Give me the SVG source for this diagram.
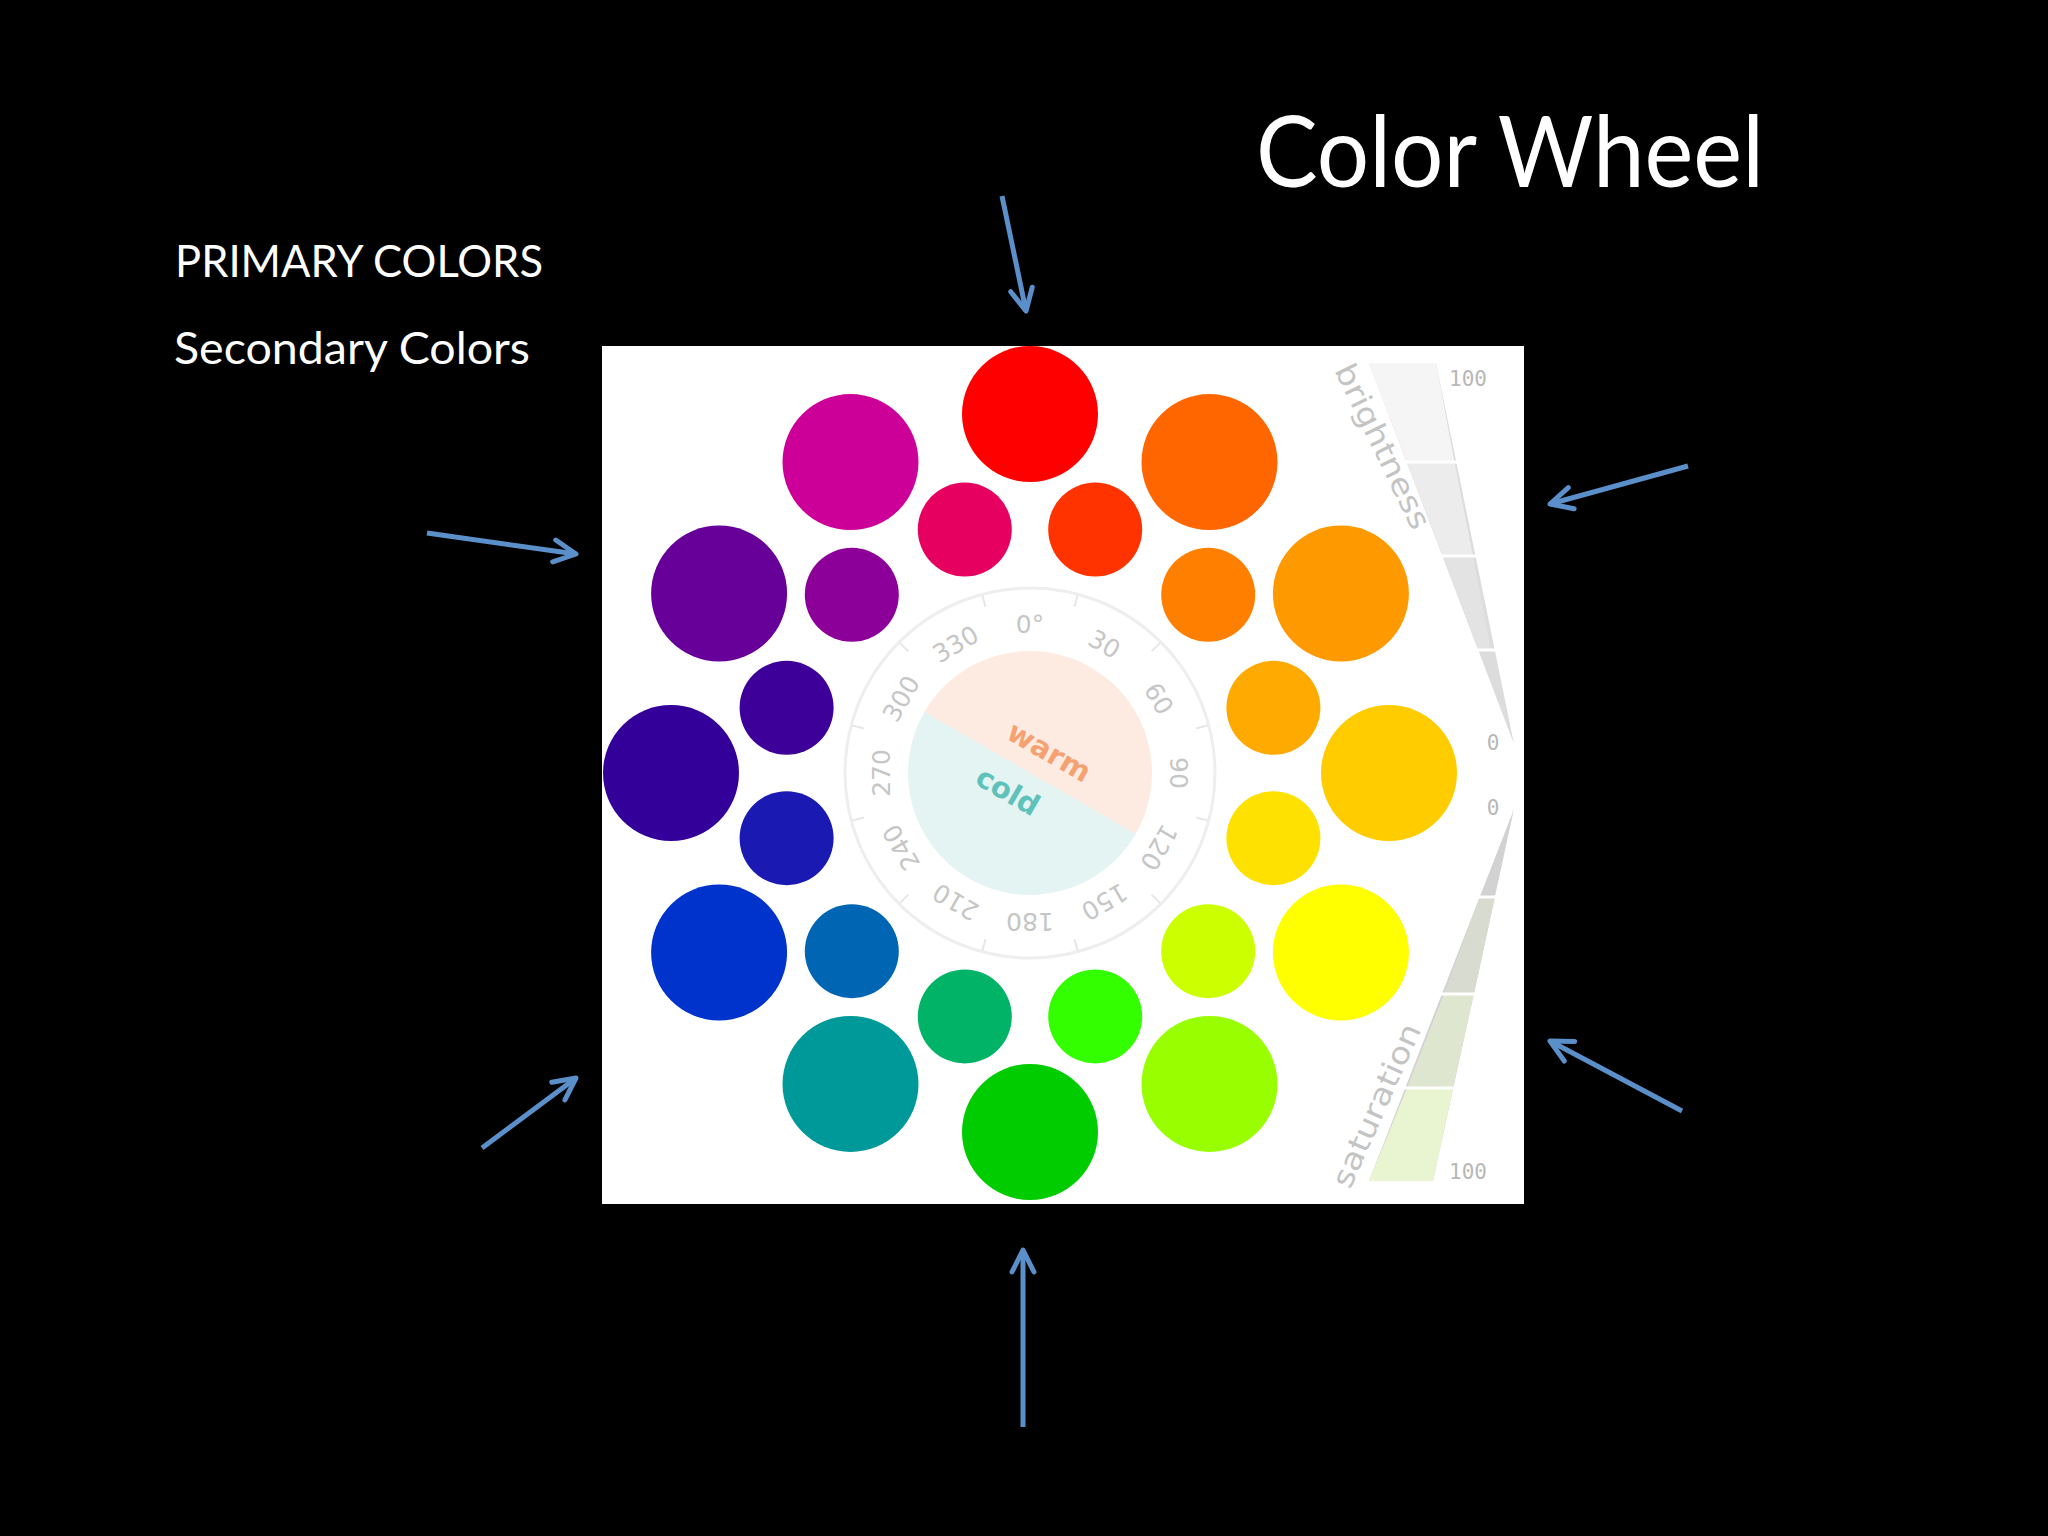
<svg xmlns="http://www.w3.org/2000/svg" width="2048" height="1536" viewBox="0 0 2048 1536">
<defs>
<style>
.title{font-family:Lato,"Open Sans","Liberation Sans",sans-serif;fill:#ffffff}
.dial{font-family:"DejaVu Sans","Liberation Sans",sans-serif;font-size:25px;fill:#c6c6c6;text-anchor:middle}
.side{font-family:"DejaVu Sans","Liberation Sans",sans-serif;fill:#c4c4c4}
.num{font-family:"DejaVu Sans Mono","Liberation Mono",monospace;font-size:21px;fill:#b8b8b8;text-anchor:middle}
.arrow{fill:none;stroke:#5b8fca;stroke-width:5;marker-end:url(#head)}
.tick{stroke:#e6e6e6;stroke-width:2}
.sep{stroke:#ffffff;stroke-width:3}
</style>
<marker id="head" markerUnits="userSpaceOnUse" markerWidth="40" markerHeight="40" viewBox="-30 -20 40 40" refX="0" refY="0" orient="auto">
<path d="M-22,-11 L0,0 L-22,11" fill="none" stroke="#5b8fca" stroke-width="5" stroke-linecap="round" stroke-linejoin="round"/>
</marker>
<line id="tk" class="tick" x1="1030" y1="589" x2="1030" y2="601"/>
</defs>
<rect width="2048" height="1536" fill="#000000"/>
<text class="title" x="1256" y="187" font-size="98" textLength="508" lengthAdjust="spacingAndGlyphs">Color Wheel</text>
<text class="title" x="175" y="277" font-size="45" textLength="368" lengthAdjust="spacingAndGlyphs">PRIMARY COLORS</text>
<text class="title" x="174" y="364" font-size="45" textLength="356" lengthAdjust="spacingAndGlyphs">Secondary Colors</text>

<g id="wheel-panel">
<rect x="602" y="346" width="922" height="858" fill="#ffffff"/>
</g>

<g id="dial">
<circle cx="1030" cy="773" r="185" fill="none" stroke="#eeeeee" stroke-width="3"/>
<use href="#tk" transform="rotate(15 1030 773)"/>
<use href="#tk" transform="rotate(45 1030 773)"/>
<use href="#tk" transform="rotate(75 1030 773)"/>
<use href="#tk" transform="rotate(105 1030 773)"/>
<use href="#tk" transform="rotate(135 1030 773)"/>
<use href="#tk" transform="rotate(165 1030 773)"/>
<use href="#tk" transform="rotate(195 1030 773)"/>
<use href="#tk" transform="rotate(225 1030 773)"/>
<use href="#tk" transform="rotate(255 1030 773)"/>
<use href="#tk" transform="rotate(285 1030 773)"/>
<use href="#tk" transform="rotate(315 1030 773)"/>
<use href="#tk" transform="rotate(345 1030 773)"/>
<text class="dial" x="1030" y="633" transform="rotate(0 1030 773)">0°</text>
<text class="dial" x="1030" y="633" transform="rotate(30 1030 773)">30</text>
<text class="dial" x="1030" y="633" transform="rotate(60 1030 773)">60</text>
<text class="dial" x="1030" y="633" transform="rotate(90 1030 773)">90</text>
<text class="dial" x="1030" y="633" transform="rotate(120 1030 773)">120</text>
<text class="dial" x="1030" y="633" transform="rotate(150 1030 773)">150</text>
<text class="dial" x="1030" y="633" transform="rotate(180 1030 773)">180</text>
<text class="dial" x="1030" y="633" transform="rotate(210 1030 773)">210</text>
<text class="dial" x="1030" y="633" transform="rotate(240 1030 773)">240</text>
<text class="dial" x="1030" y="633" transform="rotate(270 1030 773)">270</text>
<text class="dial" x="1030" y="633" transform="rotate(300 1030 773)">300</text>
<text class="dial" x="1030" y="633" transform="rotate(330 1030 773)">330</text>
<g transform="translate(1030 773) rotate(30)">
<path d="M-122,0 A122,122 0 0 1 122,0 Z" fill="#fdebe1"/>
<path d="M-122,0 A122,122 0 0 0 122,0 Z" fill="#e4f4f3"/>
<text x="6" y="-18" font-family="DejaVu Sans, sans-serif" font-weight="bold" font-size="29" fill="#f5a172" text-anchor="middle">warm</text>
<text x="-10" y="37" font-family="DejaVu Sans, sans-serif" font-weight="bold" font-size="29" fill="#5fc2ba" text-anchor="middle">cold</text>
</g>
</g>

<g id="big-circles">
<g id="hue-0"><circle cx="1030" cy="414" r="68" fill="#ff0000"/></g>
<g id="hue-30"><circle cx="1209.5" cy="462.1" r="68" fill="#ff6600"/></g>
<g id="hue-60"><circle cx="1340.9" cy="593.5" r="68" fill="#ff9900"/></g>
<g id="hue-90"><circle cx="1389" cy="773" r="68" fill="#ffcc00"/></g>
<g id="hue-120"><circle cx="1340.9" cy="952.5" r="68" fill="#ffff00"/></g>
<g id="hue-150"><circle cx="1209.5" cy="1083.9" r="68" fill="#99ff00"/></g>
<g id="hue-180"><circle cx="1030" cy="1132" r="68" fill="#00cc00"/></g>
<g id="hue-210"><circle cx="850.5" cy="1083.9" r="68" fill="#009999"/></g>
<g id="hue-240"><circle cx="719.1" cy="952.5" r="68" fill="#0033cc"/></g>
<g id="hue-270"><circle cx="671" cy="773" r="68" fill="#330099"/></g>
<g id="hue-300"><circle cx="719.1" cy="593.5" r="68" fill="#660099"/></g>
<g id="hue-330"><circle cx="850.5" cy="462.1" r="68" fill="#cc0099"/></g>
</g>

<g id="small-circles">
<g id="hue-15"><circle cx="1095.2" cy="529.6" r="47" fill="#ff3300"/></g>
<g id="hue-45"><circle cx="1208.2" cy="594.8" r="47" fill="#ff8000"/></g>
<g id="hue-75"><circle cx="1273.4" cy="707.8" r="47" fill="#ffaa00"/></g>
<g id="hue-105"><circle cx="1273.4" cy="838.2" r="47" fill="#ffe100"/></g>
<g id="hue-135"><circle cx="1208.2" cy="951.2" r="47" fill="#ccff00"/></g>
<g id="hue-165"><circle cx="1095.2" cy="1016.4" r="47" fill="#33ff00"/></g>
<g id="hue-195"><circle cx="964.8" cy="1016.4" r="47" fill="#00b366"/></g>
<g id="hue-225"><circle cx="851.8" cy="951.2" r="47" fill="#0066b3"/></g>
<g id="hue-255"><circle cx="786.6" cy="838.2" r="47" fill="#1a1ab3"/></g>
<g id="hue-285"><circle cx="786.6" cy="707.8" r="47" fill="#3d0099"/></g>
<g id="hue-315"><circle cx="851.8" cy="594.8" r="47" fill="#8c0099"/></g>
<g id="hue-345"><circle cx="964.8" cy="529.6" r="47" fill="#e6005f"/></g>
</g>

<g id="brightness-scale">
<polygon points="1369,363 1436,363 1514,744" fill="#dcdcdc"/>
<polygon points="1369,363 1436,363 1454.5,462 1407,462" fill="#f5f5f5"/>
<polygon points="1407,462 1454.5,462 1473,556 1443,556" fill="#ececec"/>
<polygon points="1443,556 1473,556 1491,650 1478,650" fill="#e3e3e3"/>
<line class="sep" x1="1380" y1="462" x2="1470" y2="462"/>
<line class="sep" x1="1420" y1="556" x2="1490" y2="556"/>
<line class="sep" x1="1460" y1="650" x2="1505" y2="650"/>
<text class="side" font-size="30" transform="translate(1334 370) rotate(64)" textLength="180" lengthAdjust="spacingAndGlyphs">brightness</text>
<text class="num" x="1468" y="386">100</text>
<text class="num" x="1493" y="750">0</text>
</g>

<g id="saturation-scale">
<polygon points="1514,809 1433,1181 1369,1181" fill="#d2d2d2"/>
<polygon points="1495,897 1474,994 1444,994 1480,897" fill="#d8dbcf"/>
<polygon points="1474,994 1453,1088 1407,1088 1444,994" fill="#dfe6d0"/>
<polygon points="1453,1088 1433,1181 1369,1181 1407,1088" fill="#e8f5d0"/>
<line class="sep" x1="1460" y1="897" x2="1510" y2="897"/>
<line class="sep" x1="1430" y1="994" x2="1490" y2="994"/>
<line class="sep" x1="1390" y1="1088" x2="1470" y2="1088"/>
<text class="side" font-size="30" transform="translate(1350 1190) rotate(-66)" textLength="176" lengthAdjust="spacingAndGlyphs">saturation</text>
<text class="num" x="1493" y="815">0</text>
<text class="num" x="1468" y="1179">100</text>
</g>

<g id="connectors">
<path class="arrow" d="M1002,196 L1026,311"/>
<path class="arrow" d="M427,533 L576,554"/>
<path class="arrow" d="M1688,466 L1550,504"/>
<path class="arrow" d="M482,1148 L576,1078"/>
<path class="arrow" d="M1682,1111 L1550,1041"/>
<path class="arrow" d="M1023,1427 L1023,1250"/>
</g>
</svg>
